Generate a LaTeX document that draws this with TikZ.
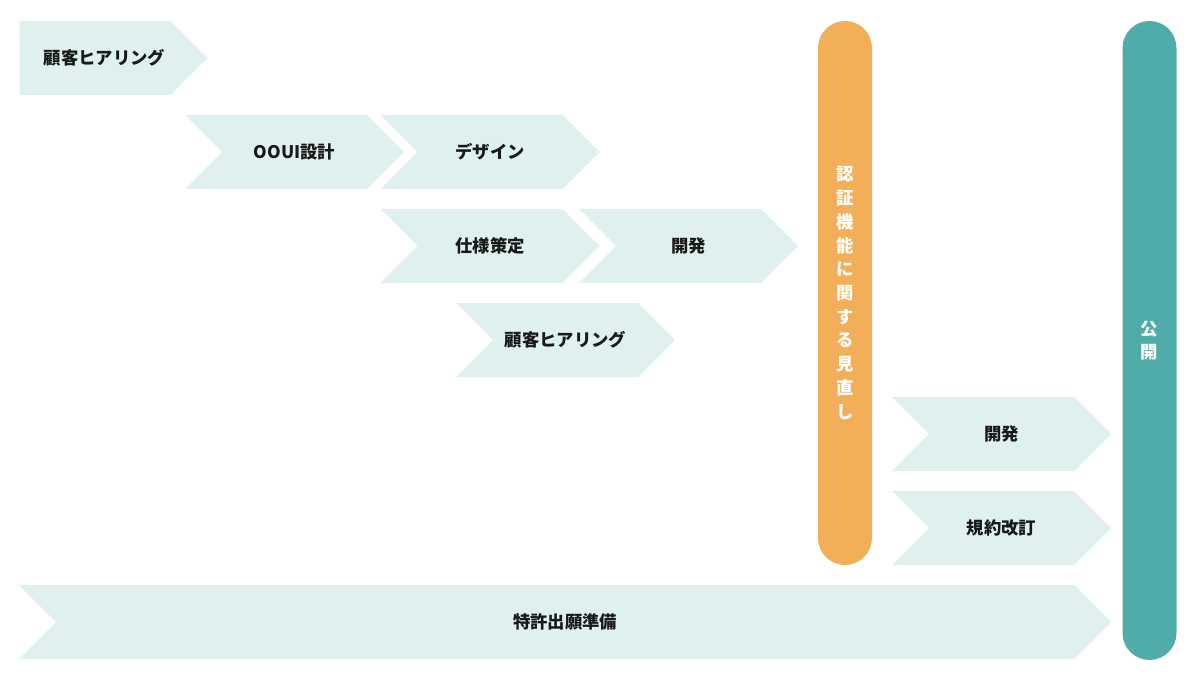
\documentclass[tikz,border=0pt]{standalone}
\usepackage{fontspec}
\setmainfont{Noto Sans CJK JP}
\usetikzlibrary{shapes.symbols,positioning}

\definecolor{mint}{HTML}{DFF0EF}
\definecolor{naranja}{HTML}{F2AF57}
\definecolor{verde}{HTML}{4FACA8}

\begin{document}
\begin{tikzpicture}[x=0.75pt, y=-0.75pt, font=\fontsize{13}{16}\selectfont\bfseries]
    % Estilos para las fases
    \tikzstyle{phase} = [signal, signal to=east, signal from=west, signal pointer angle=90, fill=mint, text=black!90, minimum height=55.5pt, minimum width=164.25pt, inner sep=0pt]
    \tikzstyle{pill} = [rectangle, rounded corners=20.25pt, minimum width=40.5pt, text=white, align=center, font=\fontsize{13}{17.8}\selectfont\bfseries]

    \useasboundingbox (0,0) rectangle (1200,681);

    % --- Fases ---
    \node [phase, signal from=nowhere, minimum width=141pt] (hearing) at (95,58) {\hspace*{14pt}顧客ヒアリング};
    \node [phase] (ooui) at (294.5,152) {OOUI設計};
    \node [phase] (design) at (490,152) {デザイン};
    \node [phase] (spec) at (490,246) {仕様策定};
    \node [phase] (dev) at (688.5,246) {開発};
    \node [phase] (hearing2) at (565.5,340) {顧客ヒアリング};
    \node [phase] (dev2) at (1001.5,434) {開発};
    \node [phase] (terms) at (1001.5,528) {規約改訂};
    \node [phase, minimum width=819pt] (patent) at (565,622) {特許出願準備};

    % --- Hitos ---
    \node [pill, fill=naranja, minimum height=408pt] (review) at (845,293) {認\\証\\機\\能\\に\\関\\す\\る\\見\\直\\し};
    \node [pill, fill=verde, minimum height=479.25pt] (release) at (1149.5,340.5) {公\\開};

\end{tikzpicture}
\end{document}
